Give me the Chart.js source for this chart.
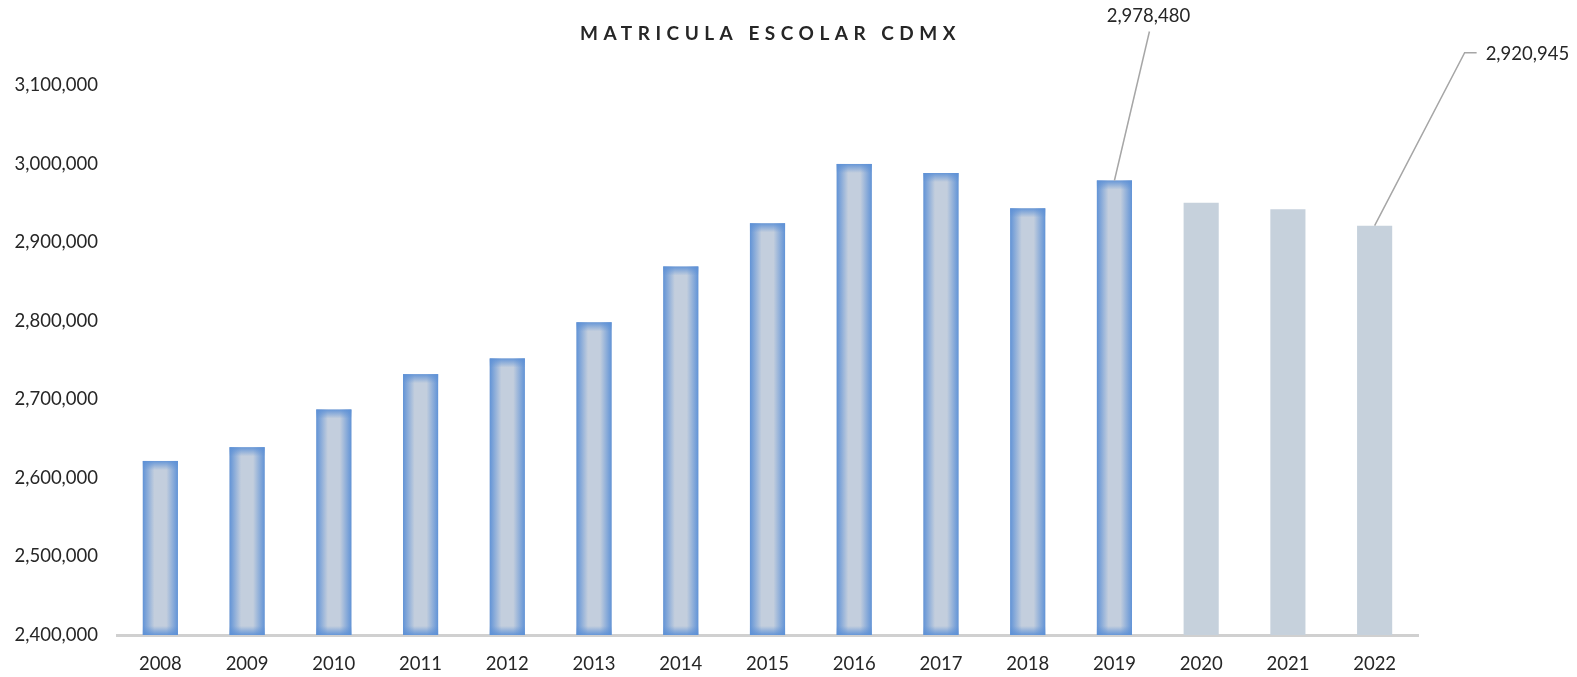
<!DOCTYPE html>
<html>
<head>
<meta charset="utf-8">
<script src="https://cdn.jsdelivr.net/npm/chart.js@4"></script>
<style>
  html, body { margin: 0; padding: 0; background: #fff; }
  #wrap { width: 1577px; height: 677px; }
</style>
</head>
<body>
<div id="wrap"><canvas id="bar_chart" width="1577" height="677"></canvas></div>
<script>
const years = ['2008', '2009', '2010', '2011', '2012', '2013', '2014', '2015', '2016', '2017', '2018', '2019', '2020', '2021', '2022'];
const matricula = [2621500, 2639000, 2687000, 2732000, 2752000, 2798000, 2869000, 2924000, 2999500, 2988000, 2943000, 2978480, 2950000, 2942000, 2920945];
const firstEstimate = '2020';
const labeledYears = ['2019', '2022'];
const yTicks = [2400000, 2500000, 2600000, 2700000, 2800000, 2900000, 3000000, 3100000];
const title = 'MATRICULA ESCOLAR CDMX';

const fmt = (v) => v.toLocaleString('en-US');
const font = 'Lato, "Open Sans", sans-serif';
const estIdx = years.indexOf(firstEstimate);

// glow on the real (non estimated) bars
const barGlow = {
  id: 'barGlow',
  afterDatasetsDraw(chart) {
    const ctx = chart.ctx;
    const meta = chart.getDatasetMeta(0);
    const bottom = chart.chartArea.bottom;
    const blue = 'rgba(92,144,214,';
    meta.data.forEach((bar, i) => {
      if (i >= estIdx) return;
      const p = bar.getProps(['x', 'y', 'base', 'width'], true);
      const base = Math.min(p.base, bottom);
      const l = p.x - p.width / 2, r = p.x + p.width / 2;
      const h = base - p.y;
      ctx.save();
      let g = ctx.createLinearGradient(l, 0, r, 0);
      g.addColorStop(0, blue + '0.95)');
      g.addColorStop(0.33, blue + '0)');
      g.addColorStop(0.67, blue + '0)');
      g.addColorStop(1, blue + '0.95)');
      ctx.fillStyle = g;
      ctx.fillRect(l, p.y, p.width, h);
      g = ctx.createLinearGradient(0, p.y, 0, p.y + 9);
      g.addColorStop(0, blue + '0.9)');
      g.addColorStop(1, blue + '0)');
      ctx.fillStyle = g;
      ctx.fillRect(l, p.y, p.width, 9);
      g = ctx.createLinearGradient(0, base, 0, base - 9);
      g.addColorStop(0, blue + '0.9)');
      g.addColorStop(1, blue + '0)');
      ctx.fillStyle = g;
      ctx.fillRect(l, base - 9, p.width, 9);
      ctx.restore();
    });
  }
};

// title + leader-line labels
const annotations = {
  id: 'annotations',
  afterDraw(chart) {
    const ctx = chart.ctx;
    const area = chart.chartArea;
    ctx.save();
    ctx.fillStyle = '#262626';
    ctx.font = 'bold 19px ' + font;
    ctx.letterSpacing = '5.5px';
    ctx.textAlign = 'center';
    ctx.textBaseline = 'middle';
    ctx.fillText(title, (area.left + area.right) / 2 + 3, 34);
    ctx.restore();

    const meta = chart.getDatasetMeta(0);
    ctx.save();
    ctx.strokeStyle = '#a6a6a6';
    ctx.lineWidth = 1.5;
    ctx.fillStyle = '#262626';
    ctx.font = '18.5px ' + font;
    ctx.textBaseline = 'middle';
    labeledYears.forEach((yr) => {
      const i = years.indexOf(yr);
      const bar = meta.data[i];
      const txt = fmt(matricula[i]);
      ctx.beginPath();
      if (i === years.length - 1) {
        ctx.moveTo(bar.x, bar.y);
        ctx.lineTo(bar.x + 90, bar.y - 173);
        ctx.lineTo(bar.x + 102, bar.y - 173);
        ctx.stroke();
        ctx.textAlign = 'left';
        ctx.fillText(txt, bar.x + 111, bar.y - 172);
      } else {
        ctx.moveTo(bar.x, bar.y);
        ctx.lineTo(bar.x + 35, bar.y - 149);
        ctx.stroke();
        ctx.textAlign = 'center';
        ctx.fillText(txt, bar.x + 34, bar.y - 164);
      }
    });
    ctx.restore();
  }
};

new Chart(document.getElementById('bar_chart'), {
  type: 'bar',
  data: {
    labels: years,
    datasets: [{
      label: 'Matrícula',
      data: matricula,
      backgroundColor: years.map((y, i) => i < estIdx ? '#c3cedd' : '#c6d1dc'),
      borderWidth: 0,
      categoryPercentage: 1,
      barPercentage: 0.405
    }]
  },
  options: {
    responsive: false,
    animation: false,
    layout: { padding: { top: 85, right: 159, bottom: 0, left: 0 } },
    plugins: {
      legend: { display: false },
      title: { display: false },
      tooltip: { enabled: false }
    },
    scales: {
      x: {
        grid: { display: false, drawTicks: false },
        border: { display: true, color: '#d0d0d0', width: 3 },
        ticks: { color: '#262626', font: { family: font, size: 18.5 }, padding: 18, maxRotation: 0 },
        afterFit: (s) => { s.height = 42; }
      },
      y: {
        min: 2400000,
        max: 3100000,
        grid: { display: false, drawTicks: false },
        border: { display: false },
        afterBuildTicks: (s) => { s.ticks = yTicks.map((v) => ({ value: v })); },
        afterFit: (s) => { s.width = 117; },
        ticks: {
          color: '#262626',
          font: { family: font, size: 18.5 },
          padding: 19,
          callback: (v) => fmt(v)
        }
      }
    }
  },
  plugins: [barGlow, annotations]
});
</script>
</body>
</html>
